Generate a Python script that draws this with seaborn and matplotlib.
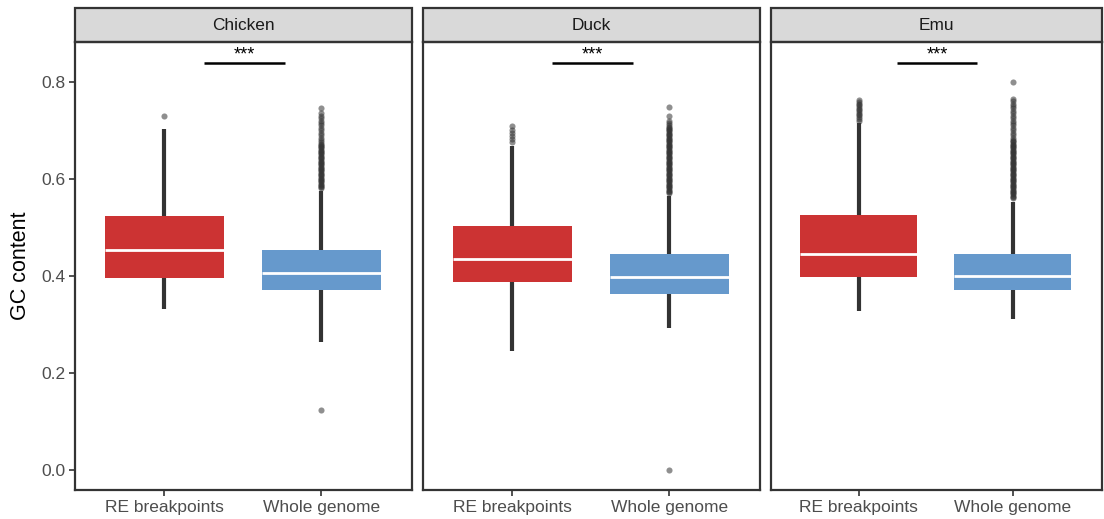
import numpy as np
import pandas as pd
import matplotlib
matplotlib.use("Agg")
import matplotlib.pyplot as plt
from matplotlib.patches import Rectangle
import seaborn as sns

# ---------------- data ----------------
species = ["Chicken", "Duck", "Emu"]
groups = ["RE breakpoints", "Whole genome"]
colors = {"RE breakpoints": "#CC3333", "Whole genome": "#6699CC"}
y_ticks = [0.0, 0.2, 0.4, 0.6, 0.8]
sig_label = "***"

# box statistics per species: [RE breakpoints, Whole genome]
whisker_low = {"Chicken": [0.332, 0.264], "Duck": [0.245, 0.293], "Emu": [0.328, 0.311]}
q1 = {"Chicken": [0.396, 0.371], "Duck": [0.388, 0.363], "Emu": [0.398, 0.371]}
median = {"Chicken": [0.452, 0.406], "Duck": [0.435, 0.398], "Emu": [0.445, 0.400]}
q3 = {"Chicken": [0.524, 0.454], "Duck": [0.503, 0.445], "Emu": [0.526, 0.445]}
whisker_high = {"Chicken": [0.703, 0.575], "Duck": [0.668, 0.565], "Emu": [0.715, 0.553]}

low_outliers = {
    "Chicken": [[], [0.122]],
    "Duck": [[], [0.0]],
    "Emu": [[], []],
}
high_outliers = {
    "Chicken": [
        [0.730],
        [0.5800, 0.5825, 0.5850, 0.5875, 0.5900, 0.5925, 0.5950, 0.5975,
         0.6000, 0.6025, 0.6050, 0.6075, 0.6100, 0.6125, 0.6150, 0.6175,
         0.6200, 0.6225, 0.6250, 0.6275, 0.6300, 0.6325, 0.6350, 0.6375,
         0.6400, 0.6425, 0.6450, 0.6475, 0.6500, 0.6525, 0.6550, 0.6575,
         0.6600, 0.6625, 0.6650, 0.6675, 0.6700, 0.6725, 0.6750, 0.6800,
         0.6850, 0.6900, 0.6950, 0.7000, 0.7050, 0.7100, 0.7150, 0.7200,
         0.7250, 0.7300, 0.7350, 0.7450],
    ],
    "Duck": [
        [0.676, 0.682, 0.688, 0.694, 0.700, 0.709],
        [0.5700, 0.5725, 0.5750, 0.5775, 0.5800, 0.5825, 0.5850, 0.5875,
         0.5900, 0.5925, 0.5950, 0.5975, 0.6000, 0.6025, 0.6050, 0.6075,
         0.6100, 0.6125, 0.6150, 0.6175, 0.6200, 0.6225, 0.6250, 0.6275,
         0.6300, 0.6325, 0.6350, 0.6375, 0.6400, 0.6425, 0.6450, 0.6475,
         0.6500, 0.6525, 0.6550, 0.6575, 0.6600, 0.6625, 0.6650, 0.6675,
         0.6700, 0.6725, 0.6750, 0.6775, 0.6800, 0.6825, 0.6850, 0.6875,
         0.6900, 0.6925, 0.6950, 0.6975, 0.7000, 0.7025, 0.7050, 0.7075,
         0.7100, 0.7150, 0.7200, 0.7300, 0.7480],
    ],
    "Emu": [
        [0.7200, 0.7235, 0.7270, 0.7305, 0.7340, 0.7375, 0.7410, 0.7445,
         0.7480, 0.7515, 0.7550, 0.7585, 0.7620],
        [0.5600, 0.5625, 0.5650, 0.5675, 0.5700, 0.5725, 0.5750, 0.5775,
         0.5800, 0.5825, 0.5850, 0.5875, 0.5900, 0.5925, 0.5950, 0.5975,
         0.6000, 0.6025, 0.6050, 0.6075, 0.6100, 0.6125, 0.6150, 0.6175,
         0.6200, 0.6225, 0.6250, 0.6275, 0.6300, 0.6325, 0.6350, 0.6375,
         0.6400, 0.6425, 0.6450, 0.6475, 0.6500, 0.6525, 0.6550, 0.6575,
         0.6600, 0.6625, 0.6650, 0.6675, 0.6700, 0.6725, 0.6750, 0.6775,
         0.6800, 0.6850, 0.6900, 0.6950, 0.7000, 0.7050, 0.7100, 0.7150,
         0.7200, 0.7250, 0.7300, 0.7350, 0.7400, 0.7450, 0.7500, 0.7550,
         0.7600, 0.7650, 0.8000],
    ],
}


def sample_from_stats(wlo, a, med, b, whi, lo, hi):
    """Build values whose quartiles / whiskers / outliers equal the given stats."""
    m = max(len(lo), len(hi)) + 2
    lower = sorted(lo) + [wlo] + [a] * (m - 1 - len(lo))
    mid_low = [a] * m
    mid_high = [b] * m
    upper = [b] * (m - 1 - len(hi)) + [whi] + sorted(hi)
    return lower + mid_low + [med] + mid_high + upper


rows = []
for sp in species:
    for i, g in enumerate(groups):
        vals = sample_from_stats(whisker_low[sp][i], q1[sp][i], median[sp][i],
                                 q3[sp][i], whisker_high[sp][i],
                                 low_outliers[sp][i], high_outliers[sp][i])
        rows += [(sp, g, v) for v in vals]
df = pd.DataFrame(rows, columns=["species", "group", "gc"])

# ---------------- plot ----------------
sns.set_theme(style="white")
plt.rcParams["font.family"] = ["Liberation Sans", "DejaVu Sans"]

W, H = 1104, 519
fig = plt.figure(figsize=(W / 100, H / 100), dpi=100)

panels_px = [(75, 412), (423, 760), (771, 1102)]
top_px, bottom_px = 42, 490
strip_px = 34

axes = []
for (x0, x1), sp in zip(panels_px, species):
    ax = fig.add_axes([x0 / W, 1 - bottom_px / H, (x1 - x0) / W, (bottom_px - top_px) / H])
    axes.append(ax)
    sub = df[df["species"] == sp]
    sns.boxplot(
        data=sub, x="group", y="gc", hue="group", order=groups, hue_order=groups,
        palette=colors, saturation=1, width=0.76, whis=1.5, legend=False,
        showcaps=False, ax=ax,
        boxprops=dict(edgecolor="none", linewidth=0),
        medianprops=dict(color="white", linewidth=2),
        whiskerprops=dict(color="#333333", linewidth=3, solid_capstyle="butt"),
        flierprops=dict(marker="o", markersize=4.4, markerfacecolor="#333333",
                        markeredgecolor="none", alpha=0.55),
    )
    ax.set_xlim(-0.57, 1.58)
    ax.set_ylim(-0.042, 0.882)
    ax.set_yticks(y_ticks)
    ax.set_xlabel("")
    ax.set_ylabel("")
    for s in ax.spines.values():
        s.set_visible(True)
        s.set_color("#333333")
        s.set_linewidth(1.6)
    ax.tick_params(axis="both", direction="out", length=4, width=1.2,
                   color="#333333", labelsize=12.5, labelcolor="#4D4D4D",
                   bottom=True, left=True, pad=3)

    # significance bar
    ax.plot([0.25, 0.77], [0.839, 0.839], color="black", linewidth=1.8,
            solid_capstyle="butt")
    ax.text(0.51, 0.845, sig_label, ha="center", va="baseline", fontsize=13,
            color="black")

    # facet strip
    h = strip_px / (bottom_px - top_px)
    ax.add_patch(Rectangle((0, 1), 1, h, transform=ax.transAxes, clip_on=False,
                           facecolor="#D9D9D9", edgecolor="#333333", linewidth=1.6))
    ax.text(0.5, 1 + h / 2, sp, transform=ax.transAxes, ha="center", va="center",
            fontsize=12.4, color="#1A1A1A")

for ax in axes[1:]:
    ax.set_yticks(y_ticks)
    ax.tick_params(axis="y", left=False, labelleft=False)

axes[0].set_yticklabels([f"{t:.1f}" for t in y_ticks])
axes[0].set_ylabel("GC content", fontsize=15.5, color="black", labelpad=7)

fig.savefig("out.png", dpi=100)
